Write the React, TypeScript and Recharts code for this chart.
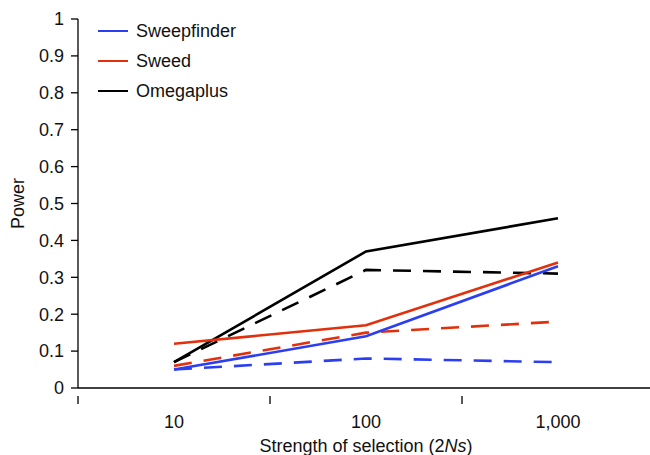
import { LineChart, Line, XAxis, YAxis } from 'recharts';

const categories = ['10', '100', '1,000'];
const sweepfinderSolid = [0.05, 0.14, 0.33];
const sweepfinderDashed = [0.05, 0.08, 0.07];
const sweedSolid = [0.12, 0.17, 0.34];
const sweedDashed = [0.06, 0.15, 0.18];
const omegaplusSolid = [0.07, 0.37, 0.46];
const omegaplusDashed = [0.07, 0.32, 0.31];
const yTicks = [0, 0.1, 0.2, 0.3, 0.4, 0.5, 0.6, 0.7, 0.8, 0.9, 1];

const BLUE = '#2b3ef2';
const RED = '#e2300c';
const BLACK = '#000000';
const FONT = '"Liberation Sans", Arial, sans-serif';
const FS = 18;

const legendItems = [
  { name: 'Sweepfinder', color: BLUE },
  { name: 'Sweed', color: RED },
  { name: 'Omegaplus', color: BLACK },
];

const data = categories.map((c, i) => ({
  x: i + 0.5,
  label: c,
  sfS: sweepfinderSolid[i],
  sfD: sweepfinderDashed[i],
  swS: sweedSolid[i],
  swD: sweedDashed[i],
  omS: omegaplusSolid[i],
  omD: omegaplusDashed[i],
}));

function XTick(props: any) {
  const { x, y, payload } = props;
  const v = payload.value;
  if (Number.isInteger(v)) {
    return <line x1={x} x2={x} y1={y} y2={y + 8} stroke="#000" strokeWidth={1.3} />;
  }
  const idx = Math.floor(v);
  return (
    <text x={x} y={y + 32} textAnchor="middle" fontSize={FS} fontFamily={FONT} fill="#111">
      {categories[idx]}
    </text>
  );
}

function XLabel(props: any) {
  const { viewBox } = props;
  const cx = viewBox.x + viewBox.width / 2;
  return (
    <text x={cx} y={viewBox.y + 64} textAnchor="middle" fontSize={FS} fontFamily={FONT} fill="#111">
      Strength of selection (2<tspan fontStyle="italic">Ns</tspan>)
    </text>
  );
}

function YLabel(props: any) {
  const { viewBox } = props;
  const cy = viewBox.y + viewBox.height / 2;
  return (
    <text x={24} y={cy} transform={`rotate(-90, 24, ${cy})`} textAnchor="middle" fontSize={FS} fontFamily={FONT} fill="#111">
      Power
    </text>
  );
}

function LegendBox() {
  return (
    <div style={{ position: 'absolute', left: 98, top: 16, fontFamily: FONT, fontSize: FS, color: '#111' }}>
      {legendItems.map((it) => (
        <div key={it.name} style={{ display: 'flex', alignItems: 'center', height: 30 }}>
          <div style={{ width: 30, height: 2.5, background: it.color, marginRight: 8 }} />
          <span>{it.name}</span>
        </div>
      ))}
    </div>
  );
}

export default function App() {
  return (
    <div style={{ position: 'absolute', left: 0, top: 0, width: 650, height: 455, overflow: 'hidden', background: '#fff' }}>
      <LineChart width={660} height={455} data={data} margin={{ top: 19, right: 6, bottom: 0, left: 0 }}>
        <XAxis
          type="number"
          dataKey="x"
          domain={[0, 3]}
          ticks={[0, 0.5, 1, 1.5, 2, 2.5, 3]}
          tick={<XTick />}
          tickLine={false}
          axisLine={{ stroke: '#000', strokeWidth: 1.3 }}
          height={67}
          interval={0}
          label={<XLabel />}
        />
        <YAxis
          type="number"
          domain={[0, 1]}
          ticks={yTicks}
          interval={0}
          width={78}
          tickSize={7}
          tickMargin={7}
          tickFormatter={(v: number) => (v === 0 ? '0' : v === 1 ? '1' : v.toFixed(1))}
          tick={{ fontSize: FS, fontFamily: FONT, fill: '#111' }}
          tickLine={{ stroke: '#000', strokeWidth: 1.3 }}
          axisLine={{ stroke: '#000', strokeWidth: 1.3 }}
          label={<YLabel />}
        />
        <Line dataKey="omD" stroke={BLACK} strokeWidth={2.6} strokeDasharray="18 12" dot={false} isAnimationActive={false} />
        <Line dataKey="omS" stroke={BLACK} strokeWidth={2.6} dot={false} isAnimationActive={false} />
        <Line dataKey="swD" stroke={RED} strokeWidth={2.6} strokeDasharray="18 12" dot={false} isAnimationActive={false} />
        <Line dataKey="swS" stroke={RED} strokeWidth={2.6} dot={false} isAnimationActive={false} />
        <Line dataKey="sfD" stroke={BLUE} strokeWidth={2.6} strokeDasharray="18 12" dot={false} isAnimationActive={false} />
        <Line dataKey="sfS" stroke={BLUE} strokeWidth={2.6} dot={false} isAnimationActive={false} />
      </LineChart>
      <LegendBox />
    </div>
  );
}
